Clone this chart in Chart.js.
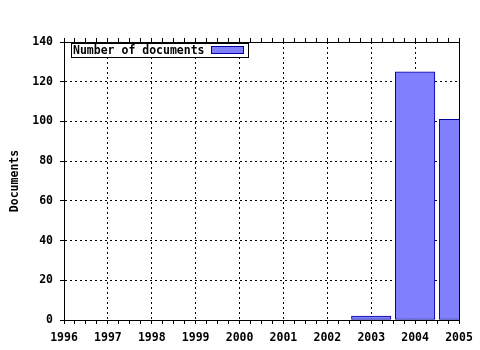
<!DOCTYPE html>
<html>
<head>
<meta charset="utf-8">
<script src="https://cdn.jsdelivr.net/npm/chart.js@4"></script>
<style>
  html, body { margin: 0; padding: 0; background: #fff; }
  #wrap { width: 480px; height: 350px; }
</style>
</head>
<body>
<div id="wrap"><canvas id="chart" width="480" height="350"></canvas></div>
<script>
// Data
const years = [2003, 2004, 2005];
const docs = [2, 125, 101];
const seriesLabel = 'Number of documents';
const yTitle = 'Documents';
const xMin = 1996, xMax = 2005;
const yMin = 0, yMax = 140, yStep = 20;

const barFill = '#8080ff';
const barEdge = '#0000a0';

Chart.defaults.font = { family: 'DejaVu Sans Mono', size: 11.5, weight: 'bold' };
Chart.defaults.color = '#000';

// Legend box drawn inside the plot, text first then swatch
const boxLegend = {
    id: 'boxLegend',
    afterDatasetsDraw(chart) {
        const ctx = chart.ctx;
        const a = chart.chartArea;
        const x = a.left + 7, y = a.top + 1, w = 177, h = 14;
        ctx.save();
        ctx.fillStyle = '#fff';
        ctx.fillRect(x, y, w, h);
        ctx.strokeStyle = '#000';
        ctx.lineWidth = 1;
        ctx.strokeRect(x + 0.5, y + 0.5, w, h);
        ctx.font = 'bold 11.5px "DejaVu Sans Mono"';
        ctx.fillStyle = '#000';
        ctx.textBaseline = 'middle';
        ctx.fillText(seriesLabel, x + 2, y + h / 2 + 1);
        ctx.fillStyle = barFill;
        ctx.fillRect(x + 141, y + 4, 31, 6);
        ctx.strokeStyle = barEdge;
        ctx.strokeRect(x + 140.5, y + 3.5, 32, 7);
        ctx.restore();
    }
};

new Chart(document.getElementById('chart'), {
    type: 'bar',
    data: {
        datasets: [{
            label: seriesLabel,
            data: years.map((yr, i) => ({ x: yr, y: docs[i] })),
            backgroundColor: barFill,
            borderColor: barEdge,
            borderWidth: 1,
            borderSkipped: false,
            barThickness: 'flex',
            barPercentage: 0.9,
            categoryPercentage: 1,
            clip: 0
        }]
    },
    options: {
        responsive: false,
        animation: false,
        layout: { padding: { left: 0, right: 21, top: 38, bottom: 0 } },
        plugins: {
            legend: { display: false },
            tooltip: { enabled: false }
        },
        scales: {
            x: {
                type: 'linear',
                position: 'bottom',
                offset: false,
                min: xMin,
                max: xMax,
                afterFit: s => { s.height = 30; },
                ticks: {
                    stepSize: 0.25,
                    autoSkip: false,
                    maxRotation: 0,
                    padding: 7,
                    callback: v => (Number.isInteger(v) ? String(v) : '')
                },
                grid: {
                    offset: false,
                    color: c => (c.tick && Number.isInteger(c.tick.value) ? '#000' : 'rgba(0,0,0,0)'),
                    tickColor: '#000',
                    tickLength: 4
                },
                border: { display: true, color: '#000', width: 1, dash: [2, 3] }
            },
            xTop: {
                type: 'linear',
                position: 'top',
                offset: false,
                min: xMin,
                max: xMax,
                afterFit: s => { s.height = 4; },
                ticks: { stepSize: 0.25, autoSkip: false, display: false },
                grid: { offset: false, drawOnChartArea: false, tickColor: '#000', tickLength: 4 },
                border: { display: true, color: '#000', width: 1 }
            },
            y: {
                position: 'left',
                min: yMin,
                max: yMax,
                afterFit: s => { s.width = 64; },
                ticks: { stepSize: yStep, padding: 7 },
                grid: { color: '#000', tickColor: '#000', tickLength: 4 },
                border: { display: true, color: '#000', width: 1, dash: [2, 3] },
                title: { display: true, text: yTitle, padding: { top: 8, bottom: 0 } }
            },
            yRight: {
                position: 'right',
                min: yMin,
                max: yMax,
                afterFit: s => { s.width = 0; },
                ticks: { display: false },
                grid: { drawOnChartArea: false, drawTicks: false },
                border: { display: true, color: '#000', width: 1 }
            }
        }
    },
    plugins: [boxLegend]
});
</script>
</body>
</html>
